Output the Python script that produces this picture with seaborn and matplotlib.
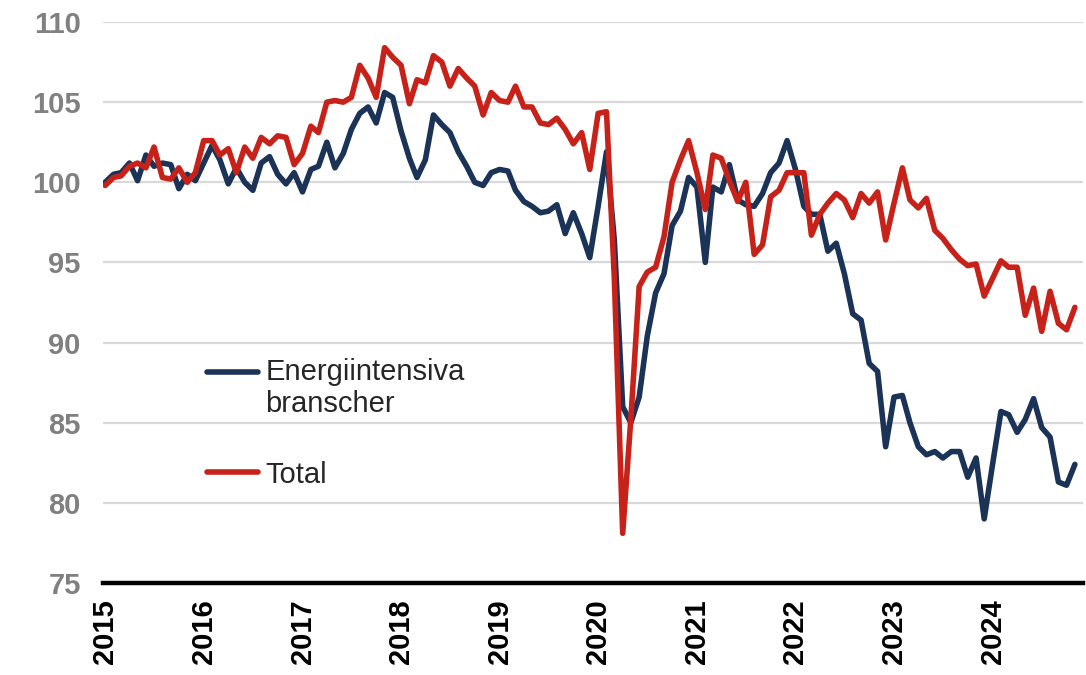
import matplotlib
matplotlib.use("Agg")
import matplotlib.pyplot as plt
from matplotlib.lines import Line2D
from matplotlib.legend_handler import HandlerLine2D
import seaborn as sns
import pandas as pd

# ---- data (monthly index, Jan 2015 .. Nov 2024) ----
start_month = "2015-01-01"
n_months = 119

energi = [
    100.0, 100.5, 100.6, 101.2, 100.1, 101.7, 101.0, 101.2, 101.1, 99.6, 100.5, 100.1,
    101.2, 102.3, 101.4, 99.9, 100.9, 100.0, 99.5, 101.2, 101.6, 100.5, 99.9, 100.6,
    99.4, 100.8, 101.0, 102.5, 100.9, 101.8, 103.3, 104.3, 104.7, 103.7, 105.6, 105.3,
    103.2, 101.5, 100.3, 101.4, 104.2, 103.6, 103.1, 101.9, 101.0, 100.0, 99.8, 100.6,
    100.8, 100.7, 99.5, 98.8, 98.5, 98.1, 98.2, 98.6, 96.8, 98.1, 96.8, 95.3,
    98.5, 101.9, 96.4, 86.0, 85.0, 86.6, 90.4, 93.1, 94.3, 97.3, 98.2, 100.3,
    99.7, 95.0, 99.7, 99.4, 101.1, 98.9, 98.6, 98.5, 99.3, 100.6, 101.2, 102.6,
    100.8, 98.5, 98.0, 98.0, 95.7, 96.2, 94.3, 91.8, 91.4, 88.7, 88.2, 83.5,
    86.6, 86.7, 85.0, 83.5, 83.0, 83.2, 82.8, 83.2, 83.2, 81.6, 82.8, 79.0,
    82.4, 85.7, 85.5, 84.4, 85.2, 86.5, 84.7, 84.1, 81.3, 81.1, 82.4,
]

total = [
    99.8, 100.3, 100.4, 101.0, 101.2, 100.9, 102.2, 100.3, 100.2, 100.9, 100.0, 100.6,
    102.6, 102.6, 101.7, 102.1, 100.6, 102.2, 101.5, 102.8, 102.4, 102.9, 102.8, 101.1,
    101.8, 103.5, 103.1, 105.0, 105.1, 105.0, 105.3, 107.3, 106.5, 105.3, 108.4, 107.8,
    107.3, 104.9, 106.4, 106.2, 107.9, 107.5, 106.0, 107.1, 106.5, 106.0, 104.2, 105.6,
    105.1, 105.0, 106.0, 104.7, 104.7, 103.7, 103.6, 104.0, 103.3, 102.4, 103.1, 100.8,
    104.3, 104.4, 94.0, 78.1, 85.2, 93.5, 94.4, 94.7, 96.6, 100.0, 101.4, 102.6,
    100.6, 98.3, 101.7, 101.5, 100.1, 98.8, 100.0, 95.5, 96.1, 99.1, 99.5, 100.6,
    100.6, 100.6, 96.7, 98.0, 98.7, 99.3, 98.9, 97.8, 99.3, 98.7, 99.4, 96.4,
    98.7, 100.9, 98.9, 98.4, 99.0, 97.0, 96.5, 95.8, 95.2, 94.8, 94.9, 92.9,
    94.0, 95.1, 94.7, 94.7, 91.7, 93.4, 90.7, 93.2, 91.2, 90.8, 92.2,
]

series_names = ["Energiintensiva\nbranscher", "Total"]
series_colors = ["#1b3356", "#c7221a"]
year_ticks = list(range(2015, 2025))
y_ticks = [75, 80, 85, 90, 95, 100, 105, 110]

dates = pd.date_range(start_month, periods=n_months, freq="MS")
df = pd.concat([
    pd.DataFrame({"date": dates, "value": energi, "series": series_names[0]}),
    pd.DataFrame({"date": dates, "value": total, "series": series_names[1]}),
])

sns.set_theme(style="white")
plt.rcParams["font.family"] = ["Liberation Sans", "DejaVu Sans"]

fig = plt.figure(figsize=(10.86, 6.75), dpi=100)
ax = fig.add_axes([103 / 1086, 1 - 583 / 675, (1083 - 103) / 1086, (583 - 22) / 675])

palette = dict(zip(series_names, series_colors))
sns.lineplot(data=df, x="date", y="value", hue="series", hue_order=series_names,
             palette=palette, linewidth=4.0, ax=ax, legend=False)

ax.set_ylim(75, 110)
ax.set_xlim(pd.Timestamp("2014-12-24"), pd.Timestamp("2024-12-01"))
ax.set_yticks(y_ticks)
for yv in y_ticks[1:]:
    ax.axhline(yv, color="#d9d9d9", lw=1.6, zorder=0)

ax.set_xticks([pd.Timestamp(f"{y}-01-01") for y in year_ticks])
ax.set_xticklabels([str(y) for y in year_ticks], rotation=90, fontsize=21,
                   fontweight="bold", color="black")
ax.set_yticklabels([str(v) for v in y_ticks], fontsize=21, fontweight="bold",
                   color="#808080")
ax.tick_params(axis="x", length=0, pad=12)
ax.tick_params(axis="y", length=0, pad=16)
ax.set_xlabel("")
ax.set_ylabel("")

for s in ["top", "right", "left"]:
    ax.spines[s].set_visible(False)
ax.spines["bottom"].set_color("black")
ax.spines["bottom"].set_linewidth(3.2)
ax.spines["bottom"].set_zorder(5)


class HandlerFirstLine(HandlerLine2D):
    """Aligns the legend line with the first line of a two-line label."""
    def __init__(self, shift=0.0, **kw):
        super().__init__(**kw)
        self.shift = shift

    def create_artists(self, legend, orig_handle, xdescent, ydescent,
                       width, height, fontsize, trans):
        arts = super().create_artists(legend, orig_handle, xdescent, ydescent,
                                      width, height, fontsize, trans)
        for a in arts:
            if isinstance(a, Line2D):
                a.set_ydata([y + self.shift for y in a.get_ydata()])
        return arts


handles = [Line2D([0], [0], color=c, lw=4.0) for c in series_colors]
ax.legend(handles, series_names, loc="upper left",
          bbox_to_anchor=((207 - 103) / 980, (583 - 358) / 561),
          frameon=False, fontsize=21, handlelength=1.75, handletextpad=0.25,
          labelspacing=1.45, borderpad=0, borderaxespad=0,
          handler_map={handles[0]: HandlerFirstLine(shift=12.5)})

fig.savefig("out.png", dpi=100)
